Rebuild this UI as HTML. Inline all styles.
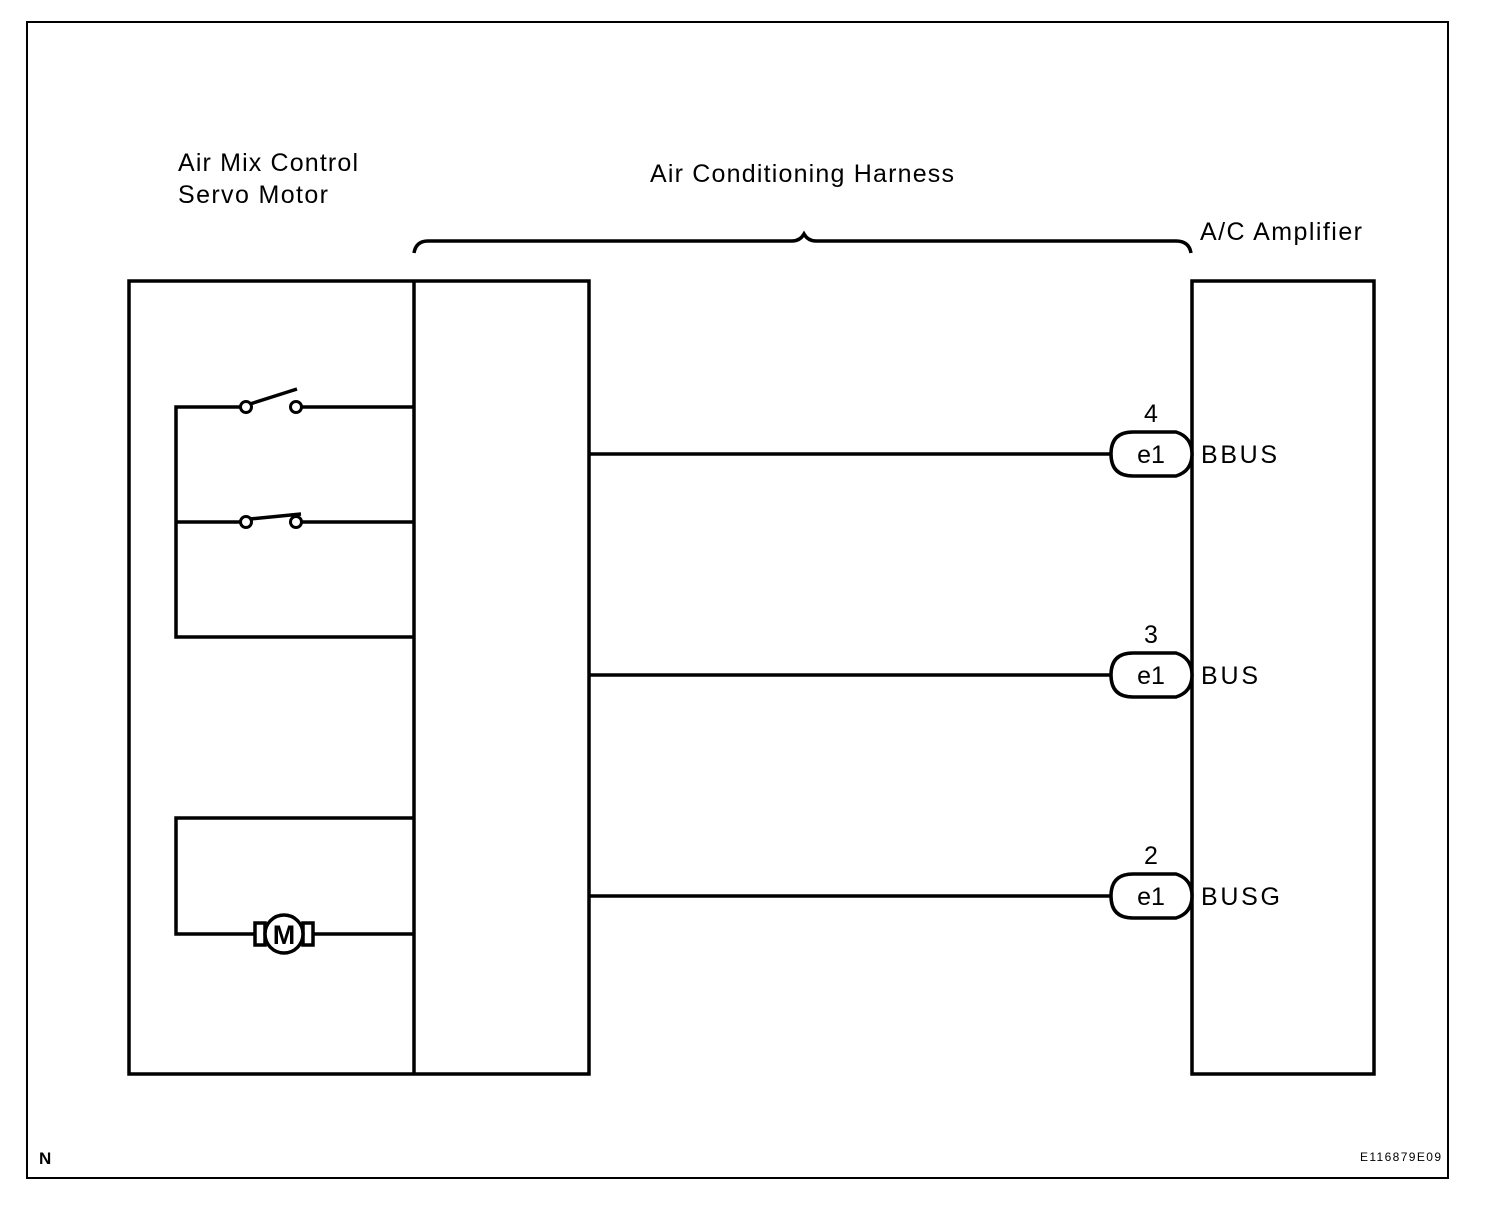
<!DOCTYPE html>
<html><head><style>
html,body{margin:0;padding:0;background:#fff;}
svg{display:block;}
text{font-family:"Liberation Sans",Arial,sans-serif;fill:#000;}
</style></head><body>
<svg width="1504" height="1210" viewBox="0 0 1504 1210" xmlns="http://www.w3.org/2000/svg">
<rect x="27" y="22" width="1421" height="1156" fill="none" stroke="#000" stroke-width="2"/>
<text x="178" y="171" font-size="25" textLength="180" lengthAdjust="spacing">Air Mix Control</text>
<text x="178" y="203" font-size="25" textLength="150" lengthAdjust="spacing">Servo Motor</text>
<text x="650" y="182" font-size="25" textLength="304" lengthAdjust="spacing">Air Conditioning Harness</text>
<text x="1200" y="240" font-size="25" textLength="162" lengthAdjust="spacing">A/C Amplifier</text>
<path d="M414,253 Q416,241 428,241 L792,241 Q800,241 804,234 Q808,241 816,241 L1176,241 Q1189,241 1191,253" fill="none" stroke="#000" stroke-width="3.5"/>
<g fill="none" stroke="#000" stroke-width="3.5">
<rect x="129" y="281" width="460" height="793"/>
<line x1="414" y1="281" x2="414" y2="1074"/>
<rect x="1192" y="281" width="182" height="793"/>
<polyline points="414,407 302,407"/>
<polyline points="240,407 176,407 176,637 414,637"/>
<polyline points="414,522 302,522"/>
<polyline points="240,522 176,522"/>
<line x1="250" y1="404" x2="297" y2="389"/>
<line x1="250" y1="519" x2="301" y2="514"/>
<polyline points="414,818 176,818 176,934 254,934"/>
<line x1="314" y1="934" x2="414" y2="934"/>
<line x1="589" y1="454" x2="1111" y2="454"/>
<line x1="589" y1="675" x2="1111" y2="675"/>
<line x1="589" y1="896" x2="1111" y2="896"/>
</g>
<g fill="#fff" stroke="#000" stroke-width="3">
<circle cx="246" cy="407" r="5.5"/><circle cx="296" cy="407" r="5.5"/>
<circle cx="246" cy="522" r="5.5"/><circle cx="296" cy="522" r="5.5"/>
<rect x="255" y="923" width="10" height="22" stroke-width="3.5"/>
<rect x="303" y="923" width="10" height="22" stroke-width="3.5"/>
<circle cx="284" cy="934" r="19" stroke-width="3.5"/>
</g>
<text x="284" y="944" font-size="27" font-weight="bold" text-anchor="middle">M</text>
<g fill="#fff" stroke="#000" stroke-width="3.5">
<path d="M1133,432 L1176,432 Q1192,437 1192,454 Q1192,471 1176,476 L1133,476 Q1111,476 1111,454 Q1111,432 1133,432 Z"/>
<path d="M1133,653 L1176,653 Q1192,658 1192,675 Q1192,692 1176,697 L1133,697 Q1111,697 1111,675 Q1111,653 1133,653 Z"/>
<path d="M1133,874 L1176,874 Q1192,879 1192,896 Q1192,913 1176,918 L1133,918 Q1111,918 1111,896 Q1111,874 1133,874 Z"/>
</g>
<g font-size="25" text-anchor="middle">
<text x="1151" y="463">e1</text><text x="1151" y="684">e1</text><text x="1151" y="905">e1</text>
<text x="1151" y="422">4</text><text x="1151" y="643">3</text><text x="1151" y="864">2</text>
</g>
<g font-size="25">
<text x="1201" y="463" textLength="76" lengthAdjust="spacing">BBUS</text><text x="1201" y="684" textLength="57" lengthAdjust="spacing">BUS</text><text x="1201" y="905" textLength="79" lengthAdjust="spacing">BUSG</text>
</g>
<text x="39" y="1164" font-size="17" font-weight="bold">N</text>
<text x="1441" y="1161" font-size="12" text-anchor="end" textLength="81" lengthAdjust="spacing">E116879E09</text>
</svg>
</body></html>
